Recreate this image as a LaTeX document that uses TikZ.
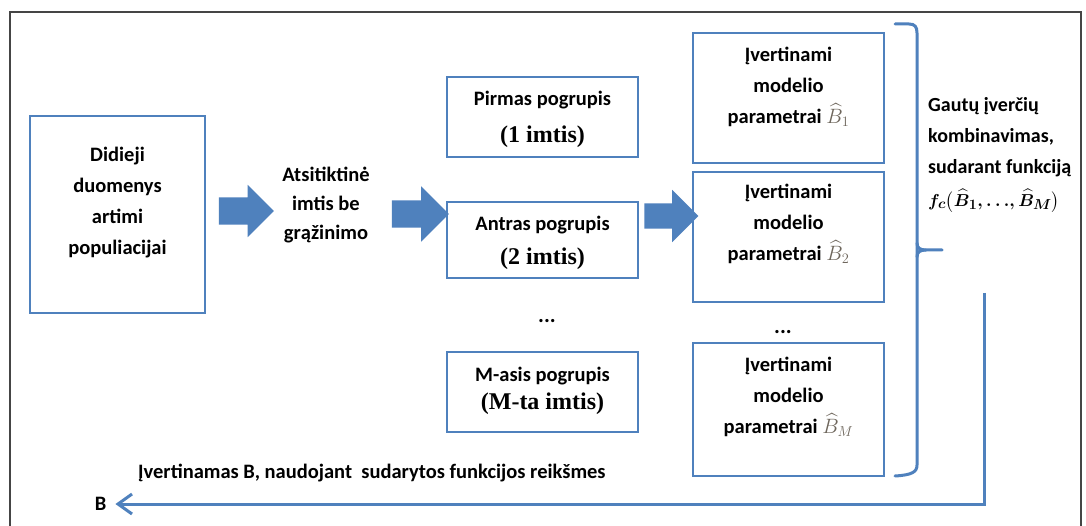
\documentclass[tikz,border=0pt]{standalone}
\usepackage{amsmath}
\usepackage{fontspec}
\setmainfont{Carlito}
\newfontfamily\tnr{Liberation Serif}
\usetikzlibrary{shapes.arrows,arrows.meta}
\definecolor{ob}{HTML}{4F81BD}
\definecolor{hatc}{HTML}{6E665C}
\definecolor{frm}{HTML}{454545}
\begin{document}
\begin{tikzpicture}[x=1pt,y=-1pt,
  box/.style={draw=ob,line width=1.4pt,inner sep=0pt},
  txt/.style={font=\fontsize{20.5}{31}\selectfont\bfseries,align=center,inner sep=0pt},
  sertxt/.style={font=\fontsize{24}{28}\selectfont\tnr\bfseries,inner sep=0pt},
  barrow/.style={single arrow,fill=ob,draw=none,inner xsep=0pt,inner ysep=13.5pt,
    single arrow head extend=12.5pt,single arrow tip angle=90},
  brace/.style={draw=ob,line width=3pt,line cap=round},
  retline/.style={draw=ob,line width=3pt}]
\useasboundingbox (0,0) rectangle (1086,526);
\clip (0,0) rectangle (1086,526);
\fill[white] (0,0) rectangle (1086,526);
% outer frame
\draw[frm,line width=2pt] (10,12) rectangle (1081,580);

% big data box
\node[box,minimum width=175,minimum height=197] (big) at (117.5,214.5) {};
\node[txt] (bigt) at (117.5,202.5) {Didieji\\duomenys\\artimi\\populiacijai};

% block arrows
\node[barrow,minimum height=55] (a1) at (239.5,211) {};
\node[txt,font=\fontsize{20.5}{29}\selectfont\bfseries] (samp) at (326,205) {Atsitiktinė\\imtis be\\grąžinimo};
\node[barrow,minimum height=57,single arrow head extend=14pt] (a2) at (413.5,214) {};

% subgroups
\node[box,minimum width=191,minimum height=80] (p1) at (542.5,117) {};
\node[txt] (p1a) at (542.5,100) {Pirmas pogrupis};
\node[sertxt] (p1b) at (542.5,137) {(1 imtis)};

\node[box,minimum width=191,minimum height=76] (p2) at (542.5,240) {};
\node[txt] (p2a) at (542.5,225) {Antras pogrupis};
\node[sertxt] (p2b) at (542.5,259) {(2 imtis)};

\node[txt,font=\fontsize{22}{31}\selectfont\bfseries] (d1) at (547,321) {...};

\node[box,minimum width=191,minimum height=80] (p3) at (542.5,392) {};
\node[txt] (p3a) at (542.5,376) {M-asis pogrupis};
\node[sertxt] (p3b) at (542.5,404) {(M-ta imtis)};

\node[barrow,minimum height=54,inner ysep=12.5pt,single arrow head extend=13.5pt] (a3) at (665,216) {};

% parameter boxes
\node[box,minimum width=191,minimum height=130] (r1) at (788.5,98) {};
\node[txt] (r1t) at (788.5,87) {Įvertinami\\modelio\\parametrai {\color{hatc}$\widehat{B}_1$}};

\node[box,minimum width=191,minimum height=130] (r2) at (788.5,237) {};
\node[txt] (r2t) at (788.5,224) {Įvertinami\\modelio\\parametrai {\color{hatc}$\widehat{B}_2$}};

\node[txt,font=\fontsize{22}{31}\selectfont\bfseries] (d2) at (783,332) {...};

\node[box,minimum width=191,minimum height=133] (r3) at (788.5,409.5) {};
\node[txt] (r3t) at (788.5,397) {Įvertinami\\modelio\\parametrai {\color{hatc}$\widehat{B}_M$}};

% brace
\draw[brace] (895,24) -- (909,24) .. controls (915,24) and (917,27) .. (917,33)
  -- (917,465) .. controls (917,472) and (912,475) .. (895,476);
\draw[brace] (917,243) .. controls (917,248) and (920,250) .. (926,250) -- (942,250);
\draw[brace] (917,257) .. controls (917,252) and (920,250) .. (926,250);

% combination text
\node[txt,font=\fontsize{20}{31}\selectfont\bfseries,align=left,anchor=north west] (comb) at (928,97)
  {Gautų įverčių\\kombinavimas,\\sudarant funkciją\\[2pt]{\fontsize{19}{31}\selectfont\boldmath$f_c\bigl(\widehat{B}_1,{\ldots},\widehat{B}_M\bigr)$}};

% return arrow
\node[txt,anchor=west] (est) at (138,473) {Įvertinamas B, naudojant\ \ sudarytos funkcijos reikšmes};
\node[txt] (B) at (100.5,504) {B};
\coordinate (rs) at (984,293);
\draw[retline,shorten >=9pt,-{Straight Barb[length=14pt,width=20pt,line width=3pt]}] (rs) |- (B.east);
\end{tikzpicture}
\end{document}
